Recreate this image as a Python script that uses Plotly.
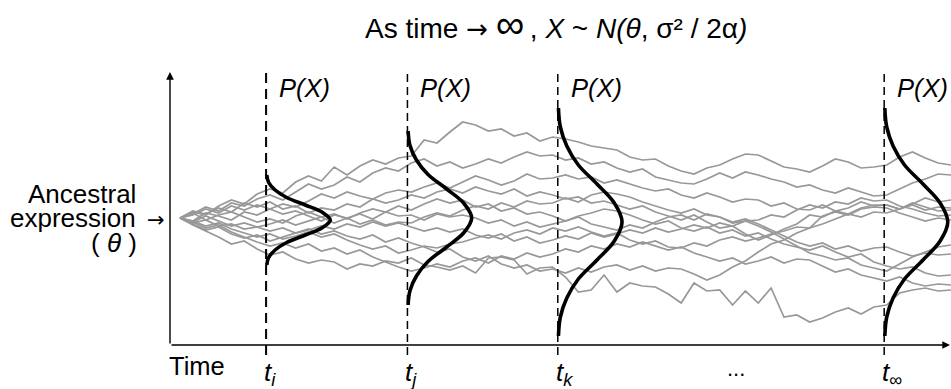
import plotly.graph_objects as go

# ---------------- data ----------------
STEP_TIMES = list(range(61))

PATH_01 = [0.0, 0.6, 0.3, 1.2, 1.8, 1.4, 2.4, 2.9, 2.5, 3.6,
           4.2, 3.7, 5.1, 4.3, 5.2, 5.8, 5.4, 6.0, 6.2, 7.8,
           7.5, 8.6, 9.6, 9.3, 8.7, 8.9, 8.2, 8.5, 7.7, 8.1,
           7.9, 7.6, 7.2, 7.0, 6.8, 6.1, 5.8, 5.9, 5.2, 4.7,
           4.4, 5.0, 5.3, 5.9, 6.4, 6.3, 5.7, 5.1, 4.9, 4.6,
           5.2, 5.9, 5.6, 5.0, 5.1, 5.3, 6.1, 6.6, 6.0, 5.5,
           5.3]
PATH_02 = [0.0, 0.4, 1.1, 0.7, 1.5, 1.2, 1.9, 2.3, 1.8, 2.6,
           3.4, 2.9, 3.3, 4.1, 3.6, 4.5, 5.0, 4.7, 5.5, 5.9,
           5.2, 5.6, 5.0, 5.4, 5.9, 5.5, 6.1, 6.6, 6.2, 6.3,
           5.8, 6.0, 5.4, 5.6, 5.0, 4.6, 4.9, 4.1, 3.8, 3.5,
           3.4, 3.9, 4.5, 4.0, 4.6, 4.3, 3.9, 3.6, 3.1, 3.3,
           2.8, 2.5, 3.0, 2.6, 2.2, 2.3, 2.9, 3.5, 3.9, 4.4,
           4.3]
PATH_03 = [0.0, -0.3, 0.5, 0.2, -0.2, 0.6, 0.3, 0.9, 1.4, 1.1,
           1.7, 2.4, 2.0, 2.6, 2.2, 1.9, 2.5, 2.8, 2.6, 3.1,
           3.5, 3.0, 3.6, 4.2, 3.8, 3.3, 3.7, 4.4, 3.9, 4.0,
           4.3, 3.9, 4.1, 3.5, 3.8, 3.4, 3.0, 2.7, 2.9, 2.3,
           2.0, 2.5, 2.1, 1.6, 1.9, 1.8, 1.2, 1.5, 0.9, 0.8,
           1.3, 0.7, 1.0, 1.6, 1.2, 1.3, 0.9, 1.4, 2.0, 1.6,
           1.8]
PATH_04 = [0.0, 0.7, 0.4, 1.0, 0.6, 1.5, 1.1, 1.6, 0.9, 1.2,
           0.5, 1.0, 0.8, 1.4, 1.1, 1.9, 1.5, 1.8, 2.3, 2.0,
           2.6, 2.9, 2.5, 3.1, 2.7, 2.4, 2.9, 2.2, 2.6, 2.3,
           1.9, 2.1, 1.5, 1.7, 1.3, 0.9, 1.2, 0.6, 0.2, -0.2,
           0.3, -0.4, -1.0, -0.8, -1.6, -2.2, -1.7, -1.1, -0.6, 0.3,
           0.1, 0.7, 0.4, 1.0, 1.3, 1.3, 0.9, 1.5, 1.1, 0.7,
           0.8]
PATH_05 = [0.0, 0.5, -0.2, 0.3, 0.6, 0.1, -0.4, -0.1, -0.5, 0.2,
           0.6, 0.1, 0.4, -0.1, 0.5, 0.9, 0.6, 1.2, 0.8, 1.4,
           1.9, 1.5, 1.8, 1.1, 1.4, 0.7, 1.0, 0.4, 0.6, 0.2,
           -0.3, 0.1, -0.6, -0.9, -1.2, -0.7, -1.0, -0.4, 0.1, 0.3,
           -0.2, 0.4, 0.1, -0.5, -0.3, -0.8, -1.4, -2.1, -2.8, -3.5,
           -3.8, -4.2, -4.0, -4.7, -5.0, -5.3, -4.6, -3.9, -3.4, -2.9,
           -2.7]
PATH_06 = [0.0, -0.4, 0.2, -0.3, -0.8, -0.5, -0.9, -0.6, -0.2, -0.7,
           -0.3, 0.1, -0.5, 0.0, 0.4, -0.1, 0.6, 0.2, 0.3, -0.2,
           0.4, 0.1, 0.3, 0.0, -0.5, -0.2, -0.8, -0.4, -0.9, -0.6,
           -0.3, 0.2, 0.5, 0.9, 0.7, 0.3, -0.2, -0.6, -0.3, -1.0,
           -1.3, -0.9, -1.5, -1.2, -1.8, -1.5, -2.1, -2.6, -2.9, -3.2,
           -2.8, -3.4, -3.9, -3.6, -4.4, -4.8, -5.1, -4.9, -5.5, -5.8,
           -5.7]
PATH_07 = [0.0, -0.5, -0.2, -0.8, -0.6, -1.1, -0.9, -1.3, -1.0, -1.5,
           -1.2, -0.8, -1.1, -0.6, -0.9, -0.4, -0.8, -0.5, -0.9, -1.3,
           -1.0, -1.4, -1.1, -1.7, -2.0, -1.6, -2.3, -1.9, -2.5, -2.2,
           -1.8, -2.1, -1.5, -1.9, -1.6, -1.2, -1.5, -1.0, -1.4, -1.1,
           -0.7, -1.0, -0.5, -0.8, -0.3, -0.2, 0.3, 0.1, 0.8, 1.3,
           1.0, 1.6, 1.4, 2.0, 1.7, 1.8, 1.2, 0.9, 0.5, 0.2,
           0.3]
PATH_08 = [0.0, -0.6, -1.2, -0.9, -1.6, -2.0, -1.7, -2.3, -1.9, -1.5,
           -1.1, -1.6, -1.3, -1.8, -2.1, -1.7, -2.4, -2.0, -2.5, -2.9,
           -3.4, -3.1, -3.9, -4.3, -3.8, -4.6, -5.0, -4.7, -5.3, -5.1,
           -5.5, -5.0, -5.4, -4.9, -4.7, -5.2, -4.8, -5.3, -5.0, -5.1,
           -5.6, -6.2, -5.7, -4.9, -4.3, -3.4, -2.6, -2.2, -1.5, -1.0,
           0.2, 0.6, 0.3, 0.9, 1.1, 1.0, 0.5, 0.1, -0.3, 0.0,
           -0.2]
PATH_09 = [0.0, -0.7, -1.3, -1.9, -2.6, -2.3, -3.1, -3.7, -3.4, -4.1,
           -4.5, -4.2, -4.4, -5.1, -4.6, -4.8, -4.3, -4.5, -4.0, -4.7,
           -4.9, -5.2, -4.8, -5.5, -4.0, -3.9, -4.2, -5.6, -5.0, -4.9,
           -5.9, -7.4, -7.2, -5.7, -7.4, -6.5, -6.8, -6.9, -7.6, -8.5,
           -6.5, -7.3, -7.2, -8.7, -7.3, -8.5, -7.0, -9.9, -9.7, -10.4,
           -10.0, -9.4, -9.0, -9.6, -8.9, -8.7, -7.5, -7.2, -7.0, -7.3,
           -7.2]
PATH_10 = [0.0, -0.4, -1.0, -0.7, -1.4, -1.9, -2.4, -2.8, -2.5, -3.0,
           -2.6, -3.3, -3.0, -3.6, -3.2, -3.9, -4.4, -4.9, -5.3, -5.0,
           -4.6, -4.9, -4.3, -4.0, -4.5, -3.8, -4.1, -3.5, -3.9, -3.6,
           -3.1, -3.4, -2.8, -3.1, -2.6, -2.9, -2.4, -2.8, -3.2, -2.9,
           -3.5, -3.9, -4.3, -4.0, -4.6, -4.3, -3.9, -4.5, -4.1, -4.2,
           -4.8, -5.4, -5.1, -5.7, -6.0, -6.3, -5.9, -6.5, -6.8, -6.6,
           -6.7]
PATH_11 = [0.0, 0.3, 0.9, 0.5, 1.2, 0.8, 1.3, 0.9, 0.4, 0.7,
           0.2, -0.3, 0.3, 0.0, -0.6, -0.2, -0.7, -0.4, -0.5, 0.1,
           0.5, 0.2, 0.8, 1.2, 0.9, 1.5, 1.1, 1.7, 1.4, 1.5,
           2.0, 1.6, 2.3, 2.6, 2.4, 2.1, 1.6, 1.2, 0.8, 0.5,
           0.9, 0.3, 0.1, -0.4, -0.1, -0.6, -1.2, -1.8, -2.4, -2.8,
           -2.5, -3.1, -2.8, -3.3, -3.0, -2.9, -3.4, -3.8, -3.5, -3.7,
           -3.6]
PATH_12 = [0.0, -0.3, -0.8, -0.5, -1.1, -1.5, -1.9, -1.6, -2.1, -1.8,
           -1.4, -1.9, -1.6, -2.2, -2.7, -3.1, -2.8, -3.5, -3.2, -2.8,
           -3.0, -2.6, -2.4, -2.0, -1.7, -2.1, -1.5, -1.2, -1.6, -1.0,
           -1.3, -0.9, -1.4, -1.8, -1.5, -2.2, -2.6, -2.3, -2.9, -3.0,
           -2.5, -2.8, -2.2, -1.9, -2.3, -2.0, -1.6, -1.3, -0.9, -1.0,
           -0.6, -0.1, 0.4, 0.1, 0.6, 0.5, 0.9, 1.3, 0.8, 1.1,
           1.0]

MARK_TIMES = [6.7, 17.7, 29.4, 54.8]
MARK_LABELS = ["<i>t</i><sub><i>i</i></sub>", "<i>t</i><sub><i>j</i></sub>",
               "<i>t</i><sub><i>k</i></sub>", "<i>t</i><sub>∞</sub>"]
BELL_CENTERS = [-0.2, 0.0, -0.4, -0.4]
BELL_SDS = [1.5, 2.9, 3.8, 3.8]
BELL_HEIGHTS = [5.0, 5.0, 5.0, 4.95]
BELL_Z = [-3.0, -2.5, -2.0, -1.5, -1.0, -0.5, 0.0, 0.5, 1.0, 1.5, 2.0, 2.5, 3.0]
BELL_PROFILE = [0.01, 0.04, 0.14, 0.32, 0.61, 0.88, 1.0, 0.88, 0.61, 0.32, 0.14, 0.04, 0.01]

PATHS = [PATH_01, PATH_02, PATH_03, PATH_04, PATH_05, PATH_06,
         PATH_07, PATH_08, PATH_09, PATH_10, PATH_11, PATH_12]

# ---------------- layout helpers ----------------
L, R, T, B = 170, 0, 72, 44
W, H = 951, 389
PW, PH = W - L - R, H - T - B


def px(x):
    return (x - L) / PW


def py(y):
    return (H - B - y) / PH


FONT = "Arial, Liberation Sans, sans-serif"
ARROW_FONT = "DejaVu Sans"
GRAY = "rgb(152,152,152)"

fig = go.Figure()

for p in PATHS:
    fig.add_trace(go.Scatter(x=STEP_TIMES[:len(p)], y=p, mode="lines",
                             line=dict(color=GRAY, width=1.7),
                             hoverinfo="skip", showlegend=False))

for t0, c, sd, h in zip(MARK_TIMES, BELL_CENTERS, BELL_SDS, BELL_HEIGHTS):
    bx = [t0 + h * v for v in BELL_PROFILE]
    by = [c + sd * z for z in BELL_Z]
    fig.add_trace(go.Scatter(x=bx, y=by, mode="lines",
                             line=dict(color="black", width=3.6, shape="spline"),
                             hoverinfo="skip", showlegend=False))

shapes = []
for k, t0 in enumerate(MARK_TIMES):
    shapes.append(dict(type="line", xref="x", yref="paper", x0=t0, x1=t0,
                       y0=py(355), y1=1.0,
                       line=dict(color="black", width=2.0 if k == 0 else 1.5,
                                 dash="10px,6px" if k == 0 else "8px,5px")))

annotations = []
# axes arrows
annotations.append(dict(xref="paper", yref="paper", x=0, y=1.0, ax=0, ay=PH,
                        axref="pixel", ayref="pixel", text="", showarrow=True,
                        arrowhead=2, arrowsize=1.1, arrowwidth=1.4, arrowcolor="black",
                        standoff=0, startstandoff=0))
annotations.append(dict(xref="paper", yref="paper", x=px(950), y=0, ax=-(950 - L), ay=0,
                        axref="pixel", ayref="pixel", text="", showarrow=True,
                        arrowhead=2, arrowsize=1.1, arrowwidth=1.4, arrowcolor="black",
                        standoff=0, startstandoff=0))

# P(X) labels and time labels
for t0, lab in zip(MARK_TIMES, MARK_LABELS):
    annotations.append(dict(xref="x", yref="paper", x=t0, y=py(88), xshift=11,
                            xanchor="left", yanchor="middle", showarrow=False,
                            text="<i>P(X)</i>", font=dict(family=FONT, size=25.5, color="black")))
    annotations.append(dict(xref="x", yref="paper", x=t0, y=py(373), xshift=-4,
                            xanchor="left", yanchor="middle", showarrow=False,
                            text=lab, font=dict(family=FONT, size=26, color="black")))

annotations.append(dict(xref="paper", yref="paper", x=px(167), y=py(366), xanchor="left",
                        yanchor="middle", showarrow=False, text="Time",
                        font=dict(family=FONT, size=25.5, color="black")))
annotations.append(dict(xref="paper", yref="paper", x=px(736), y=py(368), xanchor="center",
                        yanchor="middle", showarrow=False, text="...",
                        font=dict(family=FONT, size=22, color="black")))

# Ancestral expression
annotations.append(dict(xref="paper", yref="paper", x=px(138), y=py(194), xanchor="right",
                        yanchor="middle", showarrow=False, text="Ancestral",
                        font=dict(family=FONT, size=26, color="black")))
annotations.append(dict(xref="paper", yref="paper", x=px(138), y=py(218), xanchor="right",
                        yanchor="middle", showarrow=False, text="expression",
                        font=dict(family=FONT, size=26, color="black")))
annotations.append(dict(xref="paper", yref="paper", x=px(139), y=py(243), xanchor="right",
                        yanchor="middle", showarrow=False, text="( <i>θ</i> )",
                        font=dict(family=FONT, size=26, color="black")))
annotations.append(dict(xref="paper", yref="paper", x=px(145), y=py(220), xanchor="left",
                        yanchor="middle", showarrow=False, text="→",
                        font=dict(family=ARROW_FONT, size=21, color="black")))

# Title
annotations.append(dict(xref="paper", yref="paper", x=px(556), y=py(24), xanchor="center",
                        yanchor="middle", showarrow=False,
                        text="As time <span style='font-family:DejaVu Sans;font-size:26px'>→</span> "
                             "<span style='font-size:40px'>∞</span>\u2009, "
                             "<i>X</i> ~ <i>N(θ</i>, σ² / 2α<i>)</i>",
                        font=dict(family=FONT, size=28, color="black")))

fig.update_layout(
    width=W, height=H,
    margin=dict(l=L, r=R, t=T, b=B, pad=0),
    paper_bgcolor="white", plot_bgcolor="white",
    xaxis=dict(range=[-0.778, 60.0], visible=False, fixedrange=True),
    yaxis=dict(range=[-12.7, 14.6], visible=False, fixedrange=True),
    shapes=shapes, annotations=annotations,
    showlegend=False,
)

fig.write_html("out.html")
